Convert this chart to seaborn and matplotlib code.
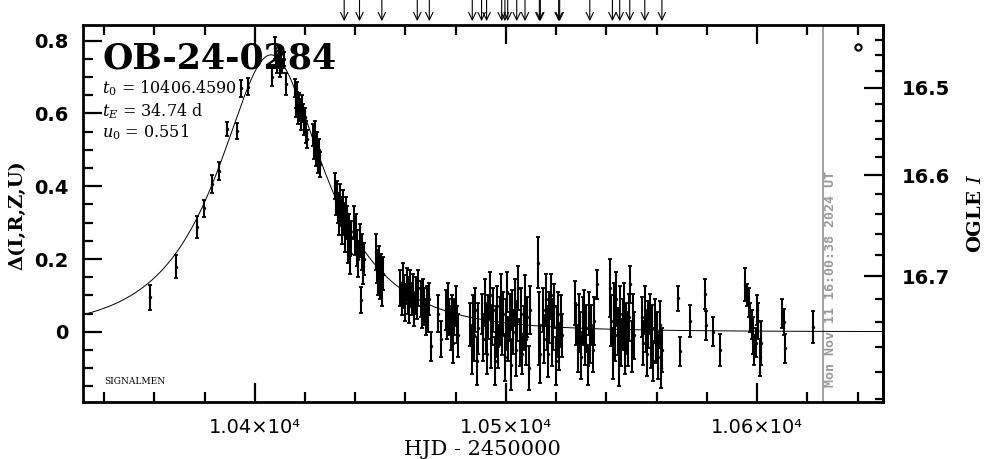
import numpy as np
import matplotlib
matplotlib.use('Agg')
import matplotlib.pyplot as plt
from matplotlib.ticker import MultipleLocator, FixedLocator, FuncFormatter
import seaborn as sns

# event parameters as printed on the panel
event_name = 'OB-24-0284'
t0 = 10406.4590
tE = 34.74
u0 = 0.551
# baseline OGLE I mag and source fraction used for the right axis
I_base = 16.748
f_source = 0.30

# OGLE photometry: HJD-2450000, Delta mag, error
hjd = [
    10358.1, 10368.8, 10377.0, 10379.9, 10383.0, 10385.9, 10388.9, 10392.9, 10394.5, 10397.5,
    10406.8, 10408.0, 10408.6, 10409.0, 10409.5, 10410.0, 10410.5, 10411.0, 10411.5, 10412.5,
    10416.0, 10416.3, 10416.6, 10417.0, 10417.3, 10417.7, 10418.0, 10418.4, 10418.8, 10419.2, 10419.6, 10420.0, 10420.4, 10420.8,
    10423.3, 10423.6, 10424.0, 10424.3, 10424.7, 10425.0, 10425.4, 10425.8,
    10432.0, 10432.4, 10432.8, 10433.2, 10433.6, 10434.0, 10434.3, 10434.7, 10435.0, 10435.4, 10435.8, 10436.2, 10436.6, 10437.0, 10437.4, 10437.8, 10438.2,
    10439.4, 10439.9, 10440.4, 10440.8, 10441.3, 10441.8, 10442.2, 10442.6, 10443.1, 10443.6,
    10448.2, 10448.6, 10449.0, 10449.4, 10449.8, 10450.2, 10450.6, 10451.0,
    10458.0, 10458.5, 10459.0, 10459.5, 10460.0, 10460.5, 10461.0, 10461.5, 10462.0, 10462.5, 10463.0, 10463.5, 10464.0, 10464.5, 10465.0,
    10466.0, 10466.5, 10467.0, 10467.5, 10468.0, 10468.5, 10469.0, 10469.5, 10470.0,
    10473.0, 10474.0,
    10476.0, 10476.5, 10477.0, 10477.5, 10478.0, 10478.5, 10479.0, 10479.5, 10480.0, 10480.5, 10481.0,
    10485.8, 10486.3, 10486.8, 10487.3, 10487.8, 10488.3, 10488.8,
    10490.5, 10491.0, 10491.5, 10492.0, 10492.5, 10493.0, 10493.5, 10494.0, 10494.5, 10495.0,
    10495.5, 10496.0, 10496.5, 10497.0, 10497.5, 10498.0, 10498.5, 10499.0, 10499.5, 10500.0,
    10500.5, 10501.0, 10501.5, 10502.0, 10502.5, 10503.0, 10503.5, 10504.0, 10504.5, 10505.0,
    10505.5, 10506.0, 10506.5, 10507.0, 10507.5, 10508.0, 10508.5, 10509.0, 10509.5,
    10512.8, 10513.2, 10513.5,
    10514.8, 10515.3, 10515.8, 10516.3, 10516.8, 10517.3, 10517.8, 10518.3, 10518.8, 10519.3, 10519.8, 10520.3, 10520.8, 10521.3, 10521.8, 10522.3,
    10527.5, 10528.0, 10528.5, 10529.0, 10529.5, 10530.0, 10530.5, 10531.0, 10531.5, 10532.0, 10532.5, 10533.0, 10533.5, 10534.0, 10534.5, 10535.0, 10536.3,
    10541.5, 10542.0, 10542.5, 10543.0, 10543.5, 10544.0, 10544.5, 10545.0, 10545.5, 10546.0,
    10546.5, 10547.0, 10547.5, 10548.0, 10548.5, 10549.0, 10549.5, 10550.0, 10550.5, 10551.0,
    10554.2, 10554.7, 10555.2, 10555.7, 10556.2, 10556.7, 10557.2, 10557.7, 10558.2, 10558.7, 10559.2, 10559.7, 10560.2, 10560.7, 10561.2, 10561.7, 10562.2,
    10568.4, 10569.5, 10573.4, 10579.3, 10579.5, 10582.3, 10585.4,
    10595.0, 10595.8, 10596.8, 10597.3, 10597.9, 10598.4, 10598.9, 10599.4, 10600.0, 10600.5, 10601.0, 10601.5,
    10610.1, 10610.6, 10611.0,
    10622.1,
]
delta = [
    0.095, 0.179, 0.287, 0.339, 0.406, 0.442, 0.557, 0.551, 0.669, 0.673,
    0.70, 0.78, 0.75, 0.73, 0.76, 0.72, 0.74, 0.73, 0.75, 0.68,
    0.67, 0.64, 0.62, 0.66, 0.60, 0.63, 0.61, 0.58, 0.62, 0.60, 0.57, 0.59, 0.55, 0.53,
    0.54, 0.51, 0.55, 0.49, 0.52, 0.47, 0.50, 0.46,
    0.40, 0.36, 0.38, 0.34, 0.31, 0.37, 0.33, 0.29, 0.35, 0.31, 0.27, 0.33, 0.30, 0.24, 0.28, 0.21, 0.26,
    0.30, 0.26, 0.28, 0.23, 0.20, 0.25, 0.087, 0.22, 0.18, 0.20,
    0.22, 0.18, 0.15, 0.19, 0.14, 0.17, 0.12, 0.16,
    0.12, 0.09, 0.14, 0.11, 0.08, 0.13, 0.10, 0.07, 0.12, 0.09, 0.11, 0.06, 0.10, 0.08, 0.12,
    0.09, 0.06, 0.10, 0.07, 0.04, 0.08, 0.05, 0.09, -0.04,
    0.05, -0.02,
    0.06, 0.03, 0.08, 0.04, 0.01, 0.05, -0.03, 0.04, 0.07, 0.02, -0.01,
    0.02, -0.05, 0.04, -0.01, 0.06, -0.08, 0.01,
    0.05, -0.02, 0.08, 0.01, -0.06, 0.04, 0.10, -0.03, 0.02, 0.06,
    -0.08, 0.00, 0.07, -0.04, 0.03, 0.09, -0.01, 0.05, -0.07, 0.02,
    0.11, -0.02, 0.04, -0.09, 0.06, 0.00, 0.08, -0.05, 0.03, 0.12,
    -0.03, 0.05, -0.06, 0.01, 0.09, -0.02, 0.04, -0.10, 0.06,
    0.19, 0.01, -0.06,
    0.06, -0.02, 0.09, 0.01, -0.06, 0.04, 0.10, -0.03, 0.02, 0.07, -0.08, 0.00, 0.05, -0.04, 0.03, -0.01,
    0.08, 0.02, -0.05, 0.04, 0.00, -0.07, 0.03, 0.06, -0.03, 0.01, -0.09, 0.05, -0.02, 0.02, -0.05, 0.03, 0.13,
    0.12, 0.03, -0.06, 0.07, -0.01, 0.09, 0.00, -0.08, 0.05, -0.03,
    0.02, 0.06, -0.05, 0.01, -0.02, 0.04, 0.13, -0.04, 0.03, -0.01,
    0.04, -0.03, 0.06, 0.00, -0.06, 0.02, 0.05, -0.04, 0.01, -0.08, 0.03, -0.02, 0.00, -0.07, 0.02, -0.10, -0.05,
    0.092, -0.053, 0.03, 0.104, 0.018, 0.0, -0.05,
    0.13, 0.10, 0.08, 0.04, 0.02, -0.01, -0.05, -0.03, 0.06, 0.03, -0.07, -0.03,
    0.05, 0.027, -0.045,
    0.013,
]
err = [
    0.034, 0.032, 0.030, 0.023, 0.025, 0.024, 0.020, 0.022, 0.023, 0.023,
    0.025, 0.030, 0.022, 0.020, 0.022, 0.020, 0.022, 0.020, 0.020, 0.030,
    0.025, 0.025, 0.03, 0.025, 0.03, 0.025, 0.03, 0.025, 0.03, 0.025, 0.03, 0.025, 0.03, 0.025,
    0.03, 0.035, 0.03, 0.035, 0.03, 0.035, 0.03, 0.035,
    0.035, 0.04, 0.035, 0.04, 0.045, 0.035, 0.04, 0.05, 0.04, 0.045, 0.05, 0.04, 0.045, 0.05, 0.045, 0.05, 0.045,
    0.045, 0.05, 0.045, 0.05, 0.05, 0.045, 0.035, 0.05, 0.05, 0.045,
    0.05, 0.045, 0.05, 0.045, 0.05, 0.045, 0.05, 0.045,
    0.05, 0.045, 0.05, 0.045, 0.05, 0.045, 0.05, 0.045, 0.05, 0.045, 0.05, 0.045, 0.05, 0.045, 0.05,
    0.05, 0.05, 0.045, 0.05, 0.05, 0.045, 0.05, 0.045, 0.04,
    0.05, 0.05,
    0.055, 0.05, 0.055, 0.05, 0.06, 0.05, 0.055, 0.05, 0.055, 0.05, 0.06,
    0.06, 0.065, 0.06, 0.07, 0.06, 0.065, 0.07,
    0.055, 0.06, 0.065, 0.07, 0.055, 0.06, 0.065, 0.07, 0.055, 0.06,
    0.065, 0.07, 0.055, 0.06, 0.065, 0.07, 0.055, 0.06, 0.065, 0.07,
    0.055, 0.06, 0.065, 0.07, 0.055, 0.06, 0.065, 0.07, 0.055, 0.06,
    0.065, 0.07, 0.055, 0.06, 0.065, 0.07, 0.055, 0.06, 0.065,
    0.07, 0.10, 0.08,
    0.06, 0.065, 0.07, 0.06, 0.065, 0.07, 0.06, 0.065, 0.07, 0.06, 0.065, 0.07, 0.06, 0.065, 0.07, 0.06,
    0.06, 0.055, 0.06, 0.065, 0.055, 0.06, 0.065, 0.055, 0.06, 0.065, 0.055, 0.06, 0.065, 0.055, 0.06, 0.065, 0.04,
    0.08, 0.07, 0.07, 0.065, 0.07, 0.075, 0.065, 0.07, 0.075, 0.065,
    0.07, 0.075, 0.065, 0.07, 0.075, 0.065, 0.05, 0.07, 0.075, 0.065,
    0.055, 0.06, 0.065, 0.055, 0.06, 0.065, 0.055, 0.06, 0.065, 0.055, 0.06, 0.065, 0.055, 0.06, 0.065, 0.055, 0.06,
    0.035, 0.04, 0.045, 0.04, 0.04, 0.04, 0.045,
    0.045, 0.03, 0.04, 0.04, 0.04, 0.05, 0.04, 0.04, 0.04, 0.05, 0.05, 0.06,
    0.04, 0.035, 0.04,
    0.045,
]

# epochs marked with arrows along the top
arrow_hjd = [10435.6, 10441.7, 10450.6, 10464.7, 10469.5, 10486.6, 10490.3, 10492.3,
             10498.3, 10499.6, 10500.7, 10504.3, 10507.6, 10513.3, 10513.7, 10521.0,
             10521.4, 10533.4, 10542.4, 10545.3, 10549.3, 10555.3, 10562.1]

x_range = (10331.5, 10650.0)
y_range = (-0.192, 0.842)
now_hjd = 10626.17
now_label = 'Mon Nov 11 16:00:38 2024 UT'

hjd = np.array(hjd)
delta = np.array(delta)
err = np.array(err)


def paczynski(t):
    u = np.sqrt(u0 ** 2 + ((t - t0) / tE) ** 2)
    A = (u ** 2 + 2) / (u * np.sqrt(u ** 2 + 4))
    return 2.5 * np.log10(A)


def d2mag(d):
    d = np.asarray(d, dtype=float)
    return I_base - 2.5 * np.log10(1 - f_source + f_source * 10 ** (0.4 * d))


def mag2d(m):
    m = np.asarray(m, dtype=float)
    x = (10 ** (-0.4 * (m - I_base)) - (1 - f_source)) / f_source
    return 2.5 * np.log10(np.clip(x, 1e-6, None))


sns.set_theme(style='ticks')
plt.rcParams['font.family'] = ['DejaVu Serif']
plt.rcParams['mathtext.fontset'] = 'dejavuserif'
for key in ['text.color', 'axes.labelcolor', 'xtick.color', 'ytick.color', 'axes.edgecolor']:
    plt.rcParams[key] = 'black'

fig = plt.figure(figsize=(9.86, 4.59), dpi=100)
ax = fig.add_axes([0.0839, 0.1248, 0.8113, 0.8201])

# model curve
tt = np.linspace(x_range[0], x_range[1], 1200)
sns.lineplot(x=tt, y=paczynski(tt), ax=ax, color='black', lw=0.7)

# data
ax.errorbar(hjd, delta, yerr=err, fmt='none', ecolor='black',
            elinewidth=1.5, capsize=1.6, capthick=1.3, zorder=3)
sns.scatterplot(x=hjd, y=delta, ax=ax, s=6, color='black', linewidth=0, zorder=4)

# time of plot
ax.axvline(now_hjd, color='#9a9a9a', lw=1.3, zorder=1)
ax.text(0.9354, 0.04, now_label, transform=ax.transAxes, rotation=90,
        ha='center', va='bottom', color='#9a9a9a', fontsize=9.6,
        family='DejaVu Sans Mono', fontweight='bold')

ax.set_xlim(*x_range)
ax.set_ylim(*y_range)

for sp in ax.spines.values():
    sp.set_linewidth(2)
    sp.set_color('black')

ax.xaxis.set_major_locator(MultipleLocator(100))
ax.xaxis.set_minor_locator(MultipleLocator(20))
ax.xaxis.set_major_formatter(FuncFormatter(lambda v, p: f'{v / 1e4:.2f}×10⁴'))
ax.yaxis.set_major_locator(MultipleLocator(0.2))
ax.yaxis.set_minor_locator(MultipleLocator(0.05))
ax.yaxis.set_major_formatter(FuncFormatter(lambda v, p: '0' if abs(v) < 1e-9 else f'{v:g}'))

ax.tick_params(which='both', direction='in', top=True, bottom=True, left=True, right=False,
               width=1.6, color='black')
ax.tick_params(which='major', length=14)
ax.tick_params(which='minor', length=7)
ax.tick_params(axis='x', which='major', labelsize=14, pad=12)
ax.tick_params(axis='y', which='major', labelsize=14, pad=10)
plt.setp(ax.get_xticklabels(), family='DejaVu Sans')
plt.setp(ax.get_yticklabels(), family='DejaVu Sans', fontweight='bold')

sec = ax.secondary_yaxis('right', functions=(d2mag, mag2d))
sec.spines['right'].set_linewidth(2)
sec.spines['right'].set_color('black')
sec.yaxis.set_major_locator(FixedLocator([16.5, 16.6, 16.7]))
sec.yaxis.set_minor_locator(MultipleLocator(0.02))
sec.yaxis.set_major_formatter(FuncFormatter(lambda v, p: f'{v:.1f}'))
sec.tick_params(which='both', direction='in', width=1.6, color='black')
sec.tick_params(which='major', length=14, labelsize=14, pad=14)
sec.tick_params(which='minor', length=6)
plt.setp(sec.get_yticklabels(), family='DejaVu Sans', fontweight='bold')

ax.set_xlabel('HJD - 2450000', fontsize=15, labelpad=2)
fig.text(0.018, 0.532, 'Δ(I,R,Z,U)', rotation=90, ha='center', va='center',
         fontsize=14, fontweight='bold')
fig.text(0.99, 0.534, 'OGLE $I$', rotation=90, ha='center', va='center',
         fontsize=14, fontweight='bold')

# panel annotations
ax.text(0.025, 0.886, event_name, transform=ax.transAxes, fontsize=25,
        fontweight='bold', va='baseline', ha='left')
ax.text(0.024, 0.819, f'$t_0$ = {t0:.4f}', transform=ax.transAxes, fontsize=11.5, va='baseline')
ax.text(0.024, 0.759, f'$t_E$ = {tE:.2f} d', transform=ax.transAxes, fontsize=11.5, va='baseline')
ax.text(0.024, 0.703, f'$u_0$ = {u0:.3f}', transform=ax.transAxes, fontsize=11.5, va='baseline')
ax.text(0.027, 0.048, 'SIGNALMEN', transform=ax.transAxes, fontsize=6.5, va='baseline')
ax.plot([0.969], [0.942], transform=ax.transAxes, marker='o', ms=4.5, mfc='none',
        mec='black', mew=1.5, ls='none', clip_on=False)

# arrows above the frame
for t in arrow_hjd:
    ax.annotate('', xy=(t, 1.011), xytext=(t, 1.068),
                xycoords=('data', 'axes fraction'), textcoords=('data', 'axes fraction'),
                arrowprops=dict(arrowstyle='->,head_length=0.45,head_width=0.22', lw=0.8,
                                color='black', shrinkA=0, shrinkB=0),
                annotation_clip=False)

fig.savefig('out.png', dpi=100)
